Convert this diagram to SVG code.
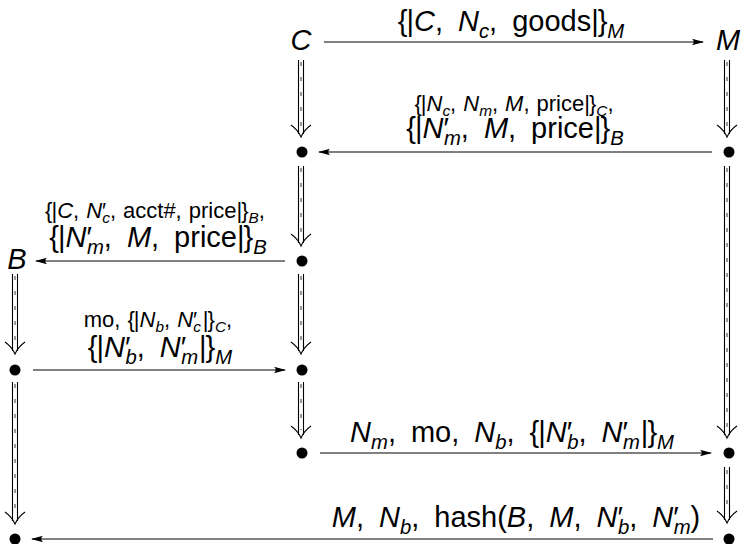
<svg xmlns="http://www.w3.org/2000/svg" width="741" height="544" viewBox="0 0 741 544">
  <defs>
    <style>
      .t { font-family: "Liberation Sans", "DejaVu Sans", sans-serif; fill: #000; }
      .node { font-size: 29px; font-style: italic; }
      .big { font-size: 29px; }
      .sm { font-size: 22px; }
      .i { font-style: italic; }
      .sub { font-size: 70%; }
      .msg { fill: none; stroke: #000; stroke-width: 1; }
      .rail { fill: none; stroke: #000; stroke-width: 1.1; }
      .seam { fill: none; stroke: #999; stroke-width: 2; stroke-dasharray: 4 11; }
      .dot { fill: #000; }
    </style>
    <marker id="head" viewBox="0 0 12 8" refX="11" refY="4" markerWidth="12" markerHeight="8" markerUnits="userSpaceOnUse" orient="auto">
      <path d="M0,0.8 Q3.5,4 0,7.2 L12,4 Z" fill="#000"/>
    </marker>
  </defs>

  <!-- agents and their event points -->
  <g id="node-C"><text class="t node" x="301" y="50" text-anchor="middle">C</text></g>
  <g id="node-M"><text class="t node" x="728" y="50" text-anchor="middle">M</text></g>
  <g id="node-B"><text class="t node" x="17" y="269" text-anchor="middle">B</text></g>
  <g id="c1"><circle class="dot" cx="302" cy="152" r="5.5"/></g>
  <g id="m1"><circle class="dot" cx="729" cy="152" r="5.5"/></g>
  <g id="c2"><circle class="dot" cx="302" cy="261" r="5.5"/></g>
  <g id="b1"><circle class="dot" cx="15" cy="370" r="5.5"/></g>
  <g id="c3"><circle class="dot" cx="302" cy="370" r="5.5"/></g>
  <g id="c4"><circle class="dot" cx="302" cy="453" r="5.5"/></g>
  <g id="m2"><circle class="dot" cx="729" cy="453" r="5.5"/></g>
  <g id="m3"><circle class="dot" cx="729" cy="539" r="5.5"/></g>
  <g id="b2"><circle class="dot" cx="15" cy="539" r="5.5"/></g>

  <g id="connectors">
    <!-- messages -->
    <line class="msg" x1="324" y1="42" x2="703" y2="42" marker-end="url(#head)"/>
    <line class="msg" x1="712" y1="152" x2="319" y2="152" marker-end="url(#head)"/>
    <line class="msg" x1="285" y1="261" x2="36" y2="261" marker-end="url(#head)"/>
    <line class="msg" x1="33" y1="370" x2="285" y2="370" marker-end="url(#head)"/>
    <line class="msg" x1="320" y1="453" x2="711" y2="453" marker-end="url(#head)"/>
    <line class="msg" x1="713" y1="539" x2="32" y2="539" marker-end="url(#head)"/>

    <!-- timelines: double shafts ending in an open head -->
    <path class="seam" d="M301,62 V128 M301,168 V238 M301,276 V346 M301,384 V430"/>
    <path class="rail" d="M298.5,60 V134 M303.5,60 V134 M291,125 Q298,130 301,137 Q304,130 311,125"/>
    <path class="rail" d="M298.5,166 V243 M303.5,166 V243 M291,234 Q298,239 301,246 Q304,239 311,234"/>
    <path class="rail" d="M298.5,274 V351 M303.5,274 V351 M291,342 Q298,347 301,354 Q304,347 311,342"/>
    <path class="rail" d="M298.5,382 V435 M303.5,382 V435 M291,426 Q298,431 301,438 Q304,431 311,426"/>

    <path class="seam" d="M727,62 V128 M727,168 V430 M727,470 V515"/>
    <path class="rail" d="M724.5,60 V134 M729.5,60 V134 M717,125 Q724,130 727,137 Q730,130 737,125"/>
    <path class="rail" d="M724.5,166 V435 M729.5,166 V435 M717,426 Q724,431 727,438 Q730,431 737,426"/>
    <path class="rail" d="M724.5,467 V520 M729.5,467 V520 M717,511 Q724,516 727,523 Q730,516 737,511"/>

    <path class="seam" d="M15,276 V346 M15,384 V515"/>
    <path class="rail" d="M12.5,274 V351 M17.5,274 V351 M5,342 Q12,347 15,354 Q18,347 25,342"/>
    <path class="rail" d="M12.5,382 V521 M17.5,382 V521 M5,512 Q12,517 15,524 Q18,517 25,512"/>

    <!-- message labels -->
    <text class="t big" x="511" y="31" text-anchor="middle">{<tspan dx="-1">|</tspan><tspan class="i">C</tspan>,<tspan class="i" dx="15">N</tspan><tspan class="i sub" dy="7">c</tspan><tspan dy="-7">,</tspan><tspan dx="15">goods|</tspan><tspan dx="-1">}</tspan><tspan class="i sub" dy="7">M</tspan></text>

    <text class="t sm" x="514" y="111" text-anchor="middle">{<tspan dx="-1">|</tspan><tspan class="i">N</tspan><tspan class="i sub" dy="5">c</tspan><tspan dy="-5">,</tspan><tspan class="i" dx="7">N</tspan><tspan class="i sub" dy="5">m</tspan><tspan dy="-5">,</tspan><tspan class="i" dx="7">M</tspan>,<tspan dx="7">price|</tspan><tspan dx="-1">}</tspan><tspan class="i sub" dy="5">C</tspan><tspan dy="-5">,</tspan></text>
    <text class="t big" x="515" y="138" text-anchor="middle">{<tspan dx="-1">|</tspan><tspan class="i">N</tspan>′<tspan class="i sub" dx="-5" dy="7">m</tspan><tspan dy="-7">,</tspan><tspan class="i" dx="15">M</tspan>,<tspan dx="15">price|</tspan><tspan dx="-1">}</tspan><tspan class="i sub" dy="7">B</tspan></text>

    <text class="t sm" x="155" y="218" text-anchor="middle">{<tspan dx="-1">|</tspan><tspan class="i">C</tspan>,<tspan class="i" dx="7">N</tspan>′<tspan class="i sub" dx="-4" dy="5">c</tspan><tspan dy="-5">,</tspan><tspan dx="7">acct#,</tspan><tspan dx="7">price|</tspan><tspan dx="-1">}</tspan><tspan class="i sub" dy="5">B</tspan><tspan dy="-5">,</tspan></text>
    <text class="t big" x="158" y="247" text-anchor="middle">{<tspan dx="-1">|</tspan><tspan class="i">N</tspan>′<tspan class="i sub" dx="-5" dy="7">m</tspan><tspan dy="-7">,</tspan><tspan class="i" dx="15">M</tspan>,<tspan dx="15">price|</tspan><tspan dx="-1">}</tspan><tspan class="i sub" dy="7">B</tspan></text>

    <text class="t sm" x="158" y="327" text-anchor="middle">mo,<tspan dx="7">{</tspan><tspan dx="-1">|</tspan><tspan class="i">N</tspan><tspan class="i sub" dy="5">b</tspan><tspan dy="-5">,</tspan><tspan class="i" dx="7">N</tspan>′<tspan class="i sub" dx="-4" dy="5">c</tspan><tspan dx="2" dy="-5">|</tspan><tspan dx="-1">}</tspan><tspan class="i sub" dy="5">C</tspan><tspan dy="-5">,</tspan></text>
    <text class="t big" x="160" y="357" text-anchor="middle">{<tspan dx="-1">|</tspan><tspan class="i">N</tspan>′<tspan class="i sub" dx="-5" dy="7">b</tspan><tspan dy="-7">,</tspan><tspan class="i" dx="15">N</tspan>′<tspan class="i sub" dx="-5" dy="7">m</tspan><tspan dx="1" dy="-7">|</tspan><tspan dx="-1">}</tspan><tspan class="i sub" dy="7">M</tspan></text>

    <text class="t big" x="512" y="442" text-anchor="middle"><tspan class="i">N</tspan><tspan class="i sub" dy="7">m</tspan><tspan dy="-7">,</tspan><tspan dx="15">mo,</tspan><tspan class="i" dx="15">N</tspan><tspan class="i sub" dy="7">b</tspan><tspan dy="-7">,</tspan><tspan dx="15">{</tspan><tspan dx="-1">|</tspan><tspan class="i">N</tspan>′<tspan class="i sub" dx="-5" dy="7">b</tspan><tspan dy="-7">,</tspan><tspan class="i" dx="15">N</tspan>′<tspan class="i sub" dx="-5" dy="7">m</tspan><tspan dx="1" dy="-7">|</tspan><tspan dx="-1">}</tspan><tspan class="i sub" dy="7">M</tspan></text>

    <text class="t big" x="516" y="527" text-anchor="middle"><tspan class="i">M</tspan>,<tspan class="i" dx="15">N</tspan><tspan class="i sub" dy="7">b</tspan><tspan dy="-7">,</tspan><tspan dx="15">hash(</tspan><tspan class="i">B</tspan>,<tspan class="i" dx="15">M</tspan>,<tspan class="i" dx="15">N</tspan>′<tspan class="i sub" dx="-5" dy="7">b</tspan><tspan dy="-7">,</tspan><tspan class="i" dx="15">N</tspan>′<tspan class="i sub" dx="-5" dy="7">m</tspan><tspan dy="-7">)</tspan></text>
  </g>
</svg>
